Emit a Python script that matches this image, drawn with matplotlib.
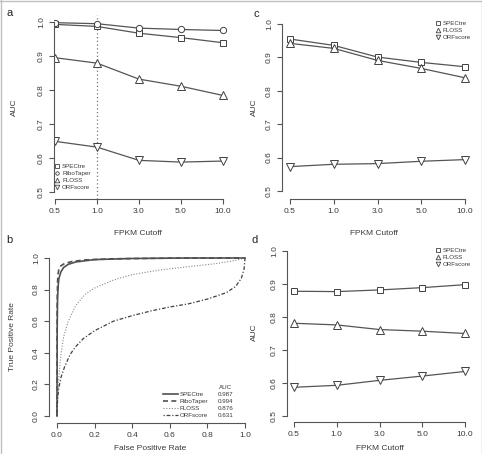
import numpy as np
import matplotlib
matplotlib.use("Agg")
import matplotlib.pyplot as plt
from matplotlib.lines import Line2D

plt.rcParams['font.family'] = ['Liberation Sans', 'DejaVu Sans']

## dados
cutoffs = ['0.5', '1.0', '3.0', '5.0', '10.0']

# painel a
a_spectre = [0.993, 0.987, 0.967, 0.954, 0.939]
a_ribotaper = [0.998, 0.995, 0.982, 0.978, 0.975]
a_floss = [0.895, 0.879, 0.832, 0.811, 0.784]
a_orfscore = [0.649, 0.632, 0.593, 0.588, 0.591]

# painel c
c_spectre = [0.955, 0.936, 0.901, 0.885, 0.872]
c_floss = [0.942, 0.927, 0.891, 0.867, 0.839]
c_orfscore = [0.573, 0.580, 0.582, 0.589, 0.594]

# painel d
d_spectre = [0.878, 0.877, 0.882, 0.889, 0.898]
d_floss = [0.781, 0.776, 0.762, 0.757, 0.750]
d_orfscore = [0.587, 0.593, 0.608, 0.621, 0.635]

# painel b (ROC)
spectre_fpr = [0, 0.001, 0.003, 0.006, 0.01, 0.02, 0.035, 0.06, 0.1, 0.2, 0.4, 0.7, 1.0]
spectre_tpr = [0, 0.55, 0.75, 0.82, 0.87, 0.91, 0.94, 0.96, 0.975, 0.99, 0.997, 1.0, 1.0]
ribotaper_fpr = [0, 0.001, 0.003, 0.006, 0.01, 0.02, 0.04, 0.08, 0.15, 0.3, 0.6, 1.0]
ribotaper_tpr = [0, 0.7, 0.85, 0.9, 0.93, 0.95, 0.965, 0.978, 0.988, 0.995, 0.999, 1.0]
floss_fpr = [0, 0.002, 0.005, 0.01, 0.02, 0.035, 0.06, 0.1, 0.15, 0.2, 0.3, 0.4, 0.55, 0.7, 0.85, 0.95, 1.0]
floss_tpr = [0, 0.06, 0.15, 0.25, 0.38, 0.5, 0.6, 0.7, 0.77, 0.81, 0.86, 0.895, 0.925, 0.945, 0.965, 0.985, 1.0]
orf_fpr = [0, 0.002, 0.005, 0.01, 0.02, 0.04, 0.07, 0.1, 0.14, 0.2, 0.3, 0.4, 0.5, 0.6, 0.7, 0.8, 0.9, 0.95, 0.98, 0.995, 1.0]
orf_tpr = [0, 0.08, 0.13, 0.18, 0.24, 0.31, 0.39, 0.44, 0.49, 0.54, 0.6, 0.635, 0.665, 0.69, 0.71, 0.74, 0.78, 0.82, 0.87, 0.93, 1.0]

roc_names = ['SPECtre', 'RiboTaper', 'FLOSS', 'ORFscore']
roc_auc = ['0.987', '0.994', '0.876', '0.631']

TXT = '#3a3a3a'
LN = '#555555'
W, H = 482, 454

fig = plt.figure(figsize=(W / 100, H / 100), dpi=100)


def px_axes(left, right, top, bottom):
  return fig.add_axes([left / W, 1 - bottom / H, (right - left) / W, (bottom - top) / H])


def r_style(ax, xb, yb):
  for s in ['top', 'right']:
    ax.spines[s].set_visible(False)
  ax.spines['left'].set_bounds(*yb)
  ax.spines['bottom'].set_bounds(*xb)
  for s in ['left', 'bottom']:
    ax.spines[s].set_color(LN)
    ax.spines[s].set_linewidth(0.8)
  ax.tick_params(length=3.5, width=0.8, color=LN, labelsize=6, labelcolor=TXT, pad=3)
  ax.tick_params(axis='y', labelrotation=90)
  for lab in ax.get_yticklabels():
    lab.set_va('center')


mk = dict(color=LN, lw=0.9, mfc='white', mec='#404040', mew=0.7)
styles = {'SPECtre': ('s', 4.2), 'RiboTaper': ('o', 4.5), 'FLOSS': ('^', 6.0), 'ORFscore': ('v', 6.0)}


def auc_panel(ax, series, leg_loc, leg_anchor):
  x = np.arange(1, len(cutoffs) + 1)
  handles = []
  for name, vals in series:
    m, s = styles[name]
    ax.plot(x, vals, marker=m, ms=s, **mk)
    handles.append(Line2D([], [], ls='none', marker=m, ms=s * 0.55, mfc='white', mec='#404040', mew=0.6, label=name))
  ax.set_xticks(x)
  ax.set_xticklabels(cutoffs)
  ax.set_yticks(np.arange(0.5, 1.01, 0.1))
  ax.set_yticklabels(['%.1f' % v for v in np.arange(0.5, 1.01, 0.1)])
  ax.set_xlabel('FPKM Cutoff', fontsize=6, color=TXT, va='center')
  ax.set_ylabel('AUC', fontsize=6, color=TXT, va='center')
  r_style(ax, (1, 5), (0.5, 1.0))
  ax.legend(handles=handles, loc=leg_loc, bbox_to_anchor=leg_anchor, frameon=False,
            fontsize=4.5, handlelength=0.8, handletextpad=0.4, labelspacing=0.25,
            borderpad=0, borderaxespad=0, labelcolor=TXT)


# painel a
ax_a = px_axes(54, 230, 15, 199)
ax_a.set_xlim(1 - 1 / 42, 5 + 7 / 42)
ax_a.set_ylim(0.5 - 7 / 340, 1.0 + 7 / 340)
ax_a.axvline(2, color='#777777', lw=0.9, ls=(0, (1, 2)))
auc_panel(ax_a, [('SPECtre', a_spectre), ('RiboTaper', a_ribotaper), ('FLOSS', a_floss), ('ORFscore', a_orfscore)],
          'lower left', (0.003, 0.049))
ax_a.xaxis.set_label_coords(0.477, -0.185)
ax_a.yaxis.set_label_coords(-0.222, 0.5)

# painel c
ax_c = px_axes(282, 472, 15, 199)
ax_c.set_xlim(1 - 8 / 43.75, 5 + 7 / 43.75)
ax_c.set_ylim(0.5 - 8 / 334, 1.0 + 9 / 334)
auc_panel(ax_c, [('SPECtre', c_spectre), ('FLOSS', c_floss), ('ORFscore', c_orfscore)],
          'upper right', (0.995, 0.967))
ax_c.xaxis.set_label_coords(0.484, -0.185)
ax_c.yaxis.set_label_coords(-0.147, 0.5)

# painel d
ax_d = px_axes(287, 472, 243, 422)
ax_d.set_xlim(1 - 7 / 42.75, 5 + 7 / 42.75)
ax_d.set_ylim(0.5 - 6 / 330, 1.0 + 8 / 330)
auc_panel(ax_d, [('SPECtre', d_spectre), ('FLOSS', d_floss), ('ORFscore', d_orfscore)],
          'upper right', (0.995, 0.972))
ax_d.xaxis.set_label_coords(0.503, -0.148)
ax_d.yaxis.set_label_coords(-0.178, 0.503)

# painel b
ax_b = px_axes(49, 250, 250, 423)
ax_b.set_xlim(-8 / 188, 1 + 5 / 188)
ax_b.set_ylim(-7 / 158, 1 + 8 / 158)
ax_b.plot(spectre_fpr, spectre_tpr, color='#505050', lw=1.2, ls='-')
ax_b.plot(ribotaper_fpr, ribotaper_tpr, color='#505050', lw=1.2, ls=(0, (3, 2)))
ax_b.plot(floss_fpr, floss_tpr, color='#8a8a8a', lw=0.8, ls=(0, (1, 1.5)))
ax_b.plot(orf_fpr, orf_tpr, color='#404040', lw=0.9, ls=(0, (1, 1.5, 3, 1.5)))
ticks = np.arange(0, 1.01, 0.2)
ax_b.set_xticks(ticks)
ax_b.set_xticklabels(['%.1f' % v for v in ticks])
ax_b.set_yticks(ticks)
ax_b.set_yticklabels(['%.1f' % v for v in ticks])
ax_b.set_xlabel('False Positive Rate', fontsize=6, color=TXT, va='center')
ax_b.set_ylabel('True Positive Rate', fontsize=6, color=TXT, va='center')
ax_b.xaxis.set_label_coords(0.502, -0.150)
ax_b.yaxis.set_label_coords(-0.184, 0.497)
r_style(ax_b, (0, 1), (0, 1))

roc_handles = [ax_b.lines[i] for i in range(4)]
leg1 = ax_b.legend(roc_handles, roc_names, title=' ', title_fontsize=4.5, loc='lower left',
                   bbox_to_anchor=(0.567, 0.029), frameon=False, fontsize=4.5,
                   handlelength=2.4, handletextpad=0.3, labelspacing=0.25,
                   borderpad=0, borderaxespad=0, labelcolor=TXT)
ax_b.add_artist(leg1)
blank = [Line2D([], [], ls='none') for _ in roc_auc]
leg2 = ax_b.legend(blank, roc_auc, title='AUC', title_fontsize=4.5, loc='lower left',
                   bbox_to_anchor=(0.841, 0.029), frameon=False, fontsize=4.5,
                   handlelength=0, handletextpad=0, labelspacing=0.25,
                   borderpad=0, borderaxespad=0, labelcolor=TXT)
leg2.get_title().set_color(TXT)

# letras dos paineis
for lab, x, y in [('a', 10, 13), ('c', 256, 14), ('b', 9, 240), ('d', 255, 240)]:
  fig.text(x / W, 1 - y / H, lab, fontsize=8, color='#222222', ha='center', va='center')

# moldura
for xs, ys in [([0.5, 0.5], [0, H]), ([0, W], [H - 0.5, H - 0.5]), ([W - 0.5, W - 0.5], [0, H])]:
  fig.add_artist(Line2D([x / W for x in xs], [y / H for y in ys], color='#c0c0c0', lw=1))

fig.savefig('out.png', dpi=100)
